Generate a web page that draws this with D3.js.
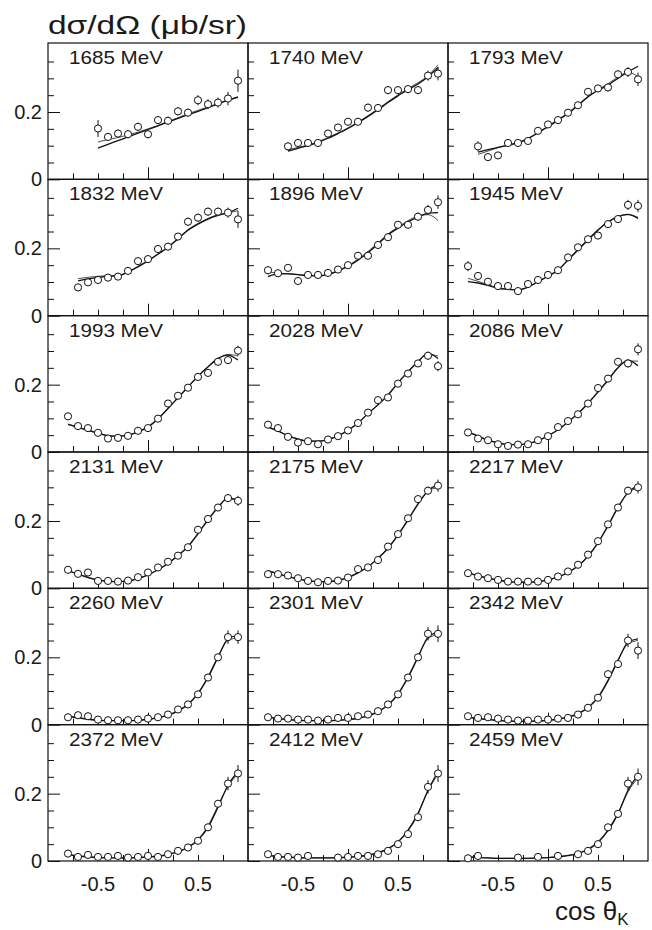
<!DOCTYPE html>
<html><head><meta charset="utf-8">
<script src="https://cdn.jsdelivr.net/npm/d3@7"></script>
<style>body{margin:0;background:#fff}svg{display:block}text{font-family:"Liberation Sans",Arial,Helvetica,sans-serif;fill:#1a1a1a}</style>
</head><body>
<svg id="c" width="652" height="930"></svg>
<script>
const energies = ["1685 MeV","1740 MeV","1793 MeV","1832 MeV","1896 MeV","1945 MeV","1993 MeV","2028 MeV","2086 MeV","2131 MeV","2175 MeV","2217 MeV","2260 MeV","2301 MeV","2342 MeV","2372 MeV","2412 MeV","2459 MeV"];
const cosBins = [-0.8,-0.7,-0.6,-0.5,-0.4,-0.3,-0.2,-0.1,0,0.1,0.2,0.3,0.4,0.5,0.6,0.7,0.8,0.9];
const xTickLabels = ["-0.5","0","0.5"];
const xTickValues = [-0.5,0,0.5];
const yTickLabels = ["0","0.2"];
const yTickValues = [0,0.2];
const n = null;
// measured cross sections (ub/sr), one entry per cosBins
const xsec = [
 [n,n,n,0.151,0.126,0.136,0.134,0.156,0.134,0.176,0.174,0.202,0.198,0.235,0.223,0.228,0.240,0.293],
 [n,n,0.098,0.108,0.108,0.108,0.136,0.154,0.171,0.171,0.213,0.212,0.265,0.265,0.268,0.265,0.308,0.314],
 [n,0.098,0.066,0.071,0.108,0.108,0.114,0.144,0.163,0.176,0.198,0.220,0.260,0.270,0.273,0.312,0.319,0.297],
 [n,0.084,0.099,0.106,0.113,0.116,0.133,0.162,0.168,0.198,0.205,0.235,0.279,0.291,0.309,0.309,0.306,0.286],
 [0.135,0.126,0.142,0.103,0.121,0.121,0.127,0.137,0.150,0.178,0.178,0.210,0.233,0.270,0.270,0.294,0.314,0.337],
 [0.147,0.118,0.101,0.088,0.088,0.073,0.094,0.106,0.121,0.135,0.173,0.203,0.227,0.238,0.272,0.287,0.329,0.326],
 [0.106,0.077,0.071,0.057,0.040,0.042,0.048,0.063,0.071,0.099,0.144,0.167,0.191,0.223,0.235,0.268,0.273,0.301],
 [0.081,0.071,0.045,0.028,0.032,0.023,0.037,0.047,0.064,0.086,0.117,0.154,0.162,0.203,0.233,0.263,0.286,0.255],
 [0.058,0.040,0.035,0.023,0.018,0.022,0.023,0.035,0.047,0.074,0.092,0.112,0.144,0.190,0.218,0.268,0.263,0.305],
 [0.055,0.043,0.047,0.022,0.022,0.020,0.023,0.033,0.047,0.062,0.079,0.097,0.122,0.174,0.206,0.240,0.268,0.260],
 [0.042,0.042,0.038,0.030,0.022,0.018,0.022,0.023,0.032,0.057,0.062,0.084,0.124,0.161,0.208,0.265,0.290,0.305],
 [0.045,0.035,0.030,0.025,0.020,0.020,0.020,0.020,0.025,0.035,0.050,0.070,0.100,0.140,0.190,0.240,0.290,0.300],
 [0.022,0.028,0.025,0.015,0.013,0.013,0.013,0.015,0.018,0.022,0.030,0.045,0.060,0.090,0.140,0.200,0.260,0.260],
 [0.022,0.018,0.018,0.015,0.015,0.012,0.015,0.020,0.020,0.025,0.030,0.040,0.060,0.090,0.140,0.200,0.270,0.270],
 [0.025,0.020,0.022,0.018,0.015,0.012,0.012,0.015,0.015,0.018,0.020,0.030,0.050,0.080,0.150,0.180,0.250,0.220],
 [0.022,0.012,0.018,0.012,0.012,0.015,0.010,0.012,0.015,0.012,0.020,0.030,0.040,0.060,0.100,0.170,0.230,0.260],
 [0.020,0.012,0.012,0.010,0.015,n,n,0.010,0.012,0.015,0.015,0.020,0.030,0.050,0.080,0.130,0.220,0.260],
 [0.008,0.015,n,n,n,0.010,n,0.012,n,0.015,n,0.020,0.030,0.050,0.100,0.140,0.230,0.250]
];
const xsecErr = [
 [n,n,n,0.025,0.012,0.012,0.012,0.012,0.012,0.012,0.012,0.012,0.012,0.015,0.015,0.015,0.02,0.033],
 [n,n,0.012,0.012,0.01,0.01,0.01,0.01,0.01,0.01,0.012,0.012,0.012,0.012,0.012,0.012,0.015,0.02],
 [n,0.015,0.01,0.01,0.01,0.01,0.01,0.01,0.01,0.01,0.01,0.01,0.01,0.01,0.012,0.012,0.015,0.02],
 [n,0.01,0.01,0.01,0.01,0.01,0.01,0.01,0.01,0.01,0.01,0.01,0.012,0.012,0.012,0.012,0.015,0.025],
 [0.012,0.01,0.01,0.01,0.01,0.01,0.01,0.01,0.01,0.01,0.01,0.01,0.01,0.01,0.01,0.012,0.015,0.02],
 [0.015,0.01,0.01,0.01,0.01,0.01,0.01,0.01,0.01,0.01,0.01,0.01,0.01,0.01,0.01,0.01,0.015,0.018],
 [0.01,0.008,0.008,0.008,0.008,0.008,0.008,0.008,0.008,0.008,0.008,0.008,0.008,0.01,0.01,0.01,0.012,0.015],
 [0.008,0.008,0.008,0.008,0.008,0.008,0.008,0.008,0.008,0.008,0.008,0.008,0.008,0.01,0.01,0.01,0.012,0.015],
 [0.008,0.008,0.008,0.008,0.008,0.008,0.008,0.008,0.008,0.008,0.008,0.008,0.008,0.01,0.01,0.01,0.012,0.018],
 [0.008,0.008,0.008,0.008,0.008,0.008,0.008,0.008,0.008,0.008,0.008,0.008,0.008,0.01,0.01,0.01,0.012,0.015],
 [0.008,0.008,0.008,0.008,0.008,0.008,0.008,0.008,0.008,0.008,0.008,0.008,0.008,0.01,0.01,0.01,0.012,0.018],
 [0.008,0.008,0.008,0.008,0.008,0.008,0.008,0.008,0.008,0.008,0.008,0.008,0.008,0.01,0.01,0.01,0.012,0.018],
 [0.008,0.008,0.008,0.008,0.008,0.008,0.008,0.008,0.008,0.008,0.008,0.008,0.008,0.01,0.01,0.01,0.02,0.02],
 [0.008,0.008,0.008,0.008,0.008,0.008,0.008,0.008,0.008,0.008,0.008,0.008,0.008,0.01,0.01,0.01,0.02,0.025],
 [0.008,0.008,0.008,0.008,0.008,0.008,0.008,0.008,0.008,0.008,0.008,0.008,0.008,0.01,0.01,0.01,0.02,0.025],
 [0.008,0.008,0.008,0.008,0.008,0.008,0.008,0.008,0.008,0.008,0.008,0.008,0.008,0.01,0.01,0.01,0.02,0.025],
 [0.008,0.008,0.008,0.008,0.008,n,n,0.008,0.008,0.008,0.008,0.008,0.008,0.01,0.01,0.01,0.02,0.025],
 [0.008,0.008,n,n,n,0.008,n,0.008,n,0.008,n,0.008,0.008,0.01,0.01,0.01,0.02,0.025]
];
// model curves (two fits), sampled at cosBins
const fitA = [
 [n,n,n,0.093,0.104,0.115,0.126,0.137,0.148,0.159,0.170,0.181,0.192,0.202,0.213,0.224,0.235,0.245],
 [n,n,0.084,0.092,0.100,0.110,0.122,0.136,0.151,0.168,0.187,0.207,0.228,0.248,0.266,0.283,0.305,0.332],
 [n,0.081,0.088,0.095,0.101,0.108,0.121,0.138,0.156,0.176,0.195,0.220,0.245,0.264,0.280,0.300,0.319,0.336],
 [n,0.103,0.109,0.114,0.117,0.118,0.130,0.146,0.163,0.183,0.203,0.228,0.254,0.272,0.287,0.298,0.306,0.319],
 [0.116,0.124,0.124,0.122,0.118,0.118,0.123,0.133,0.147,0.165,0.187,0.213,0.240,0.260,0.279,0.293,0.304,0.306],
 [0.101,0.097,0.090,0.081,0.078,0.076,0.085,0.101,0.117,0.135,0.165,0.195,0.225,0.254,0.278,0.294,0.301,0.289],
 [0.082,0.073,0.064,0.056,0.048,0.047,0.050,0.060,0.074,0.098,0.129,0.161,0.193,0.225,0.253,0.278,0.288,0.273],
 [0.074,0.062,0.048,0.038,0.032,0.032,0.037,0.048,0.064,0.086,0.114,0.140,0.169,0.205,0.238,0.268,0.293,0.278],
 [0.060,0.047,0.035,0.027,0.022,0.022,0.025,0.034,0.048,0.066,0.089,0.114,0.144,0.178,0.213,0.250,0.273,0.256],
 [0.052,0.042,0.032,0.025,0.020,0.020,0.022,0.029,0.040,0.055,0.074,0.097,0.124,0.162,0.203,0.240,0.268,0.263],
 [0.052,0.043,0.035,0.028,0.022,0.020,0.020,0.024,0.032,0.046,0.064,0.089,0.119,0.158,0.203,0.250,0.290,0.308],
 [0.045,0.037,0.030,0.024,0.020,0.018,0.018,0.020,0.025,0.033,0.047,0.066,0.095,0.135,0.185,0.240,0.285,0.305],
 [0.025,0.020,0.016,0.013,0.012,0.012,0.012,0.013,0.016,0.020,0.028,0.040,0.060,0.092,0.140,0.200,0.255,0.265],
 [0.022,0.018,0.015,0.013,0.012,0.012,0.012,0.013,0.015,0.019,0.026,0.038,0.058,0.090,0.140,0.200,0.260,0.275],
 [0.022,0.018,0.015,0.012,0.011,0.010,0.010,0.011,0.013,0.016,0.022,0.032,0.050,0.080,0.130,0.190,0.245,0.255],
 [0.018,0.015,0.012,0.010,0.009,0.009,0.009,0.010,0.012,0.014,0.019,0.027,0.040,0.062,0.100,0.160,0.225,0.265],
 [0.016,0.013,0.011,0.010,0.009,0.009,0.009,0.010,0.011,0.013,0.017,0.024,0.036,0.056,0.090,0.140,0.210,0.265],
 [0.012,0.010,0.009,0.008,0.008,0.008,0.008,0.009,0.010,0.012,0.016,0.022,0.034,0.055,0.090,0.140,0.210,0.255]
];
const fitB = [
 [n,n,n,0.111,0.118,0.124,0.132,0.140,0.150,0.160,0.172,0.183,0.195,0.205,0.215,0.225,0.235,0.243],
 [n,n,0.088,0.095,0.102,0.112,0.124,0.138,0.153,0.170,0.189,0.209,0.231,0.251,0.270,0.287,0.308,0.340],
 [n,0.074,0.084,0.094,0.103,0.110,0.122,0.139,0.158,0.178,0.198,0.222,0.246,0.266,0.284,0.304,0.318,0.305],
 [n,0.110,0.114,0.117,0.119,0.120,0.129,0.144,0.162,0.182,0.204,0.230,0.256,0.274,0.289,0.300,0.305,0.312],
 [0.131,0.126,0.125,0.122,0.120,0.119,0.122,0.132,0.148,0.168,0.191,0.216,0.243,0.263,0.282,0.296,0.300,0.283],
 [0.111,0.102,0.092,0.083,0.079,0.077,0.085,0.100,0.118,0.137,0.167,0.198,0.228,0.256,0.279,0.294,0.300,0.292],
 [0.083,0.074,0.065,0.057,0.049,0.047,0.050,0.061,0.076,0.100,0.130,0.162,0.194,0.226,0.252,0.276,0.290,0.285],
 [0.075,0.063,0.049,0.039,0.033,0.032,0.037,0.049,0.065,0.087,0.114,0.141,0.171,0.207,0.240,0.270,0.290,0.285],
 [0.061,0.048,0.036,0.028,0.023,0.022,0.025,0.034,0.048,0.066,0.090,0.116,0.146,0.180,0.216,0.252,0.270,0.270],
 [0.053,0.043,0.033,0.025,0.021,0.020,0.022,0.029,0.040,0.056,0.075,0.099,0.126,0.164,0.205,0.242,0.266,0.260],
 [0.053,0.044,0.035,0.028,0.023,0.020,0.020,0.024,0.033,0.047,0.065,0.090,0.121,0.160,0.205,0.252,0.288,0.300],
 [0.046,0.038,0.031,0.025,0.020,0.018,0.018,0.020,0.025,0.034,0.048,0.068,0.097,0.137,0.188,0.242,0.283,0.298],
 [0.026,0.021,0.017,0.014,0.012,0.012,0.012,0.013,0.016,0.021,0.029,0.042,0.062,0.095,0.143,0.203,0.250,0.258],
 [0.023,0.019,0.016,0.014,0.012,0.012,0.012,0.013,0.015,0.019,0.027,0.040,0.060,0.093,0.143,0.203,0.255,0.268],
 [0.023,0.019,0.016,0.013,0.011,0.010,0.010,0.011,0.013,0.017,0.023,0.034,0.052,0.083,0.133,0.193,0.240,0.250],
 [0.019,0.016,0.013,0.011,0.010,0.009,0.009,0.010,0.012,0.015,0.020,0.028,0.042,0.065,0.104,0.164,0.222,0.258],
 [0.017,0.014,0.012,0.010,0.009,0.009,0.009,0.010,0.011,0.014,0.018,0.025,0.038,0.058,0.093,0.143,0.208,0.258],
 [0.013,0.011,0.009,0.008,0.008,0.008,0.008,0.009,0.010,0.013,0.017,0.023,0.036,0.058,0.093,0.143,0.205,0.248]
];

const svg = d3.select("#c");
const left = 48, top0 = 43, colW = 200, rowH = 136.33, nCols = 3;

// title
svg.append("text").attr("x",48).attr("y",34).attr("font-size",26)
  .attr("textLength",199).attr("lengthAdjust","spacingAndGlyphs").text("dσ/dΩ (μb/sr)");
// x-axis title
const xt = svg.append("text").attr("x",555).attr("y",920).attr("font-size",26);
xt.append("tspan").text("cos θ");
xt.append("tspan").attr("font-size",17).attr("dy",5).text("K");

const minorY = [0.05,0.1,0.15,0.25,0.3,0.35];
const minorX = [-0.75,-0.5,-0.25,0.25,0.5,0.75];

energies.forEach((e,i)=>{
  const c = i % nCols, r = Math.floor(i / nCols);
  const x0 = left + c*colW, y0 = top0 + r*rowH;
  const x = d3.scaleLinear().domain([-1,1]).range([x0, x0+colW]);
  const y = d3.scaleLinear().domain([0,0.405]).range([y0+rowH, y0]);
  const g = svg.append("g");

  const clean = s=>{s.select(".domain").remove(); s.selectAll("line").attr("stroke","#111");};
  // y ticks (inside)
  g.append("g").attr("transform",`translate(${x0},0)`)
    .call(d3.axisLeft(y).tickValues(minorY).tickSize(-6).tickFormat("")).call(clean);
  g.append("g").attr("transform",`translate(${x0},0)`)
    .call(d3.axisLeft(y).tickValues(yTickValues).tickSize(-12).tickFormat("")).call(clean);
  // x ticks (inside)
  g.append("g").attr("transform",`translate(0,${y0+rowH})`)
    .call(d3.axisBottom(x).tickValues(minorX).tickSize(-6).tickFormat("")).call(clean);
  g.append("g").attr("transform",`translate(0,${y0+rowH})`)
    .call(d3.axisBottom(x).tickValues([0]).tickSize(-12).tickFormat("")).call(clean);

  // frame
  g.append("rect").attr("x",x0).attr("y",y0).attr("width",colW).attr("height",rowH)
    .attr("fill","none").attr("stroke","#111").attr("stroke-width",1.2);

  // y labels
  if (c === 0) {
    yTickValues.forEach((v,k)=>{
      g.append("text").attr("x",x0-6).attr("y",y(v)+7).attr("text-anchor","end")
        .attr("font-size",20).text(yTickLabels[k]);
    });
  }
  // x labels
  if (r === 5) {
    xTickValues.forEach((v,k)=>{
      g.append("text").attr("x",x(v)).attr("y",891).attr("text-anchor","middle")
        .attr("font-size",20).text(xTickLabels[k]);
    });
  }

  // energy label
  g.append("text").attr("x",x0+21).attr("y",y0+21).attr("font-size",19)
    .attr("textLength",94).attr("lengthAdjust","spacingAndGlyphs").text(e);

  // curves
  const line = d3.line().defined(d=>d[1]!==null).x(d=>x(d[0])).y(d=>y(d[1])).curve(d3.curveMonotoneX);
  const ptsA = cosBins.map((cb,k)=>[cb,fitA[i][k]]);
  const ptsB = cosBins.map((cb,k)=>[cb,fitB[i][k]]);
  g.append("path").attr("d",line(ptsB)).attr("fill","none").attr("stroke","#222").attr("stroke-width",0.8);
  g.append("path").attr("d",line(ptsA)).attr("fill","none").attr("stroke","#111").attr("stroke-width",1.3);

  // data
  const pts = cosBins.map((cb,k)=>({x:cb,v:xsec[i][k],e:xsecErr[i][k]})).filter(d=>d.v!==null);
  g.selectAll("line.err").data(pts).join("line").attr("class","err")
    .attr("x1",d=>x(d.x)).attr("x2",d=>x(d.x))
    .attr("y1",d=>y(d.v+d.e)).attr("y2",d=>y(d.v-d.e))
    .attr("stroke","#111").attr("stroke-width",1);
  g.selectAll("circle").data(pts).join("circle")
    .attr("cx",d=>x(d.x)).attr("cy",d=>y(d.v)).attr("r",3.6)
    .attr("fill","#fff").attr("stroke","#111").attr("stroke-width",1);
});
</script>
</body></html>
